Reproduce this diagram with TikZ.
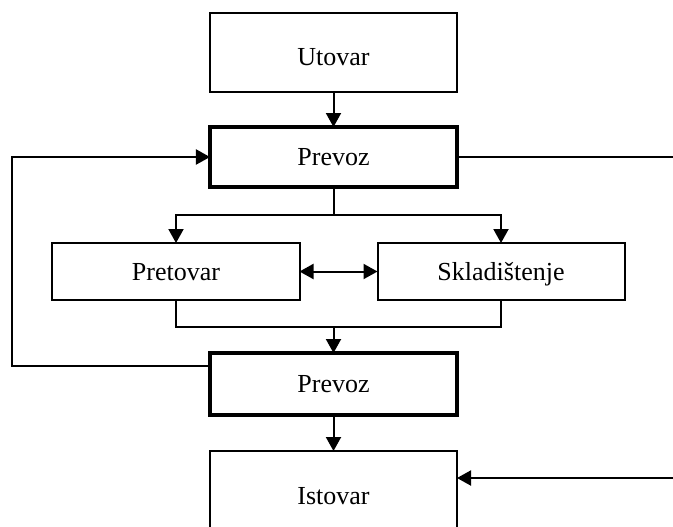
\documentclass[tikz,border=0pt]{standalone}
\usepackage{fontspec}
\setmainfont{Liberation Serif}
\usetikzlibrary{arrows.meta,calc,positioning}
\tikzset{
    %Define standard arrow tip
    >={Triangle[length=7pt,width=7.5pt]},
    %Define style for boxes
    stage/.style={
           rectangle,
           draw=black, line width=1pt,
           minimum width=123.5pt,
           minimum height=28.5pt,
           font=\fontsize{13}{15}\selectfont,
           text height=8.5pt, text depth=0pt,
           text centered,
           outer sep=0pt},
    transport/.style={
           stage,
           line width=2pt,
           minimum height=30pt},
    tall/.style={
           stage,
           text height=12.5pt,
           minimum height=39.5pt},
    % Define arrow style
    pil/.style={
           ->,
           line width=1pt},
    link/.style={
           line width=1pt}
}
\begin{document}
\begin{tikzpicture}[node distance=17.5pt]
\node[tall](utovar){Utovar};
\node[transport, below=of utovar](prevoz1){Prevoz};
\node[stage, below=28pt of prevoz1, xshift=-78.75pt](pretovar){Pretovar};
\node[stage, right=39pt of pretovar](sklad){Skladištenje};
\coordinate (mid) at (prevoz1 |- pretovar.south);
\node[transport, below=26.5pt of mid, minimum height=31pt](prevoz2){Prevoz};
\node[tall, below=18pt of prevoz2, minimum height=41pt, overlay](istovar){Istovar};
% page frame
\useasboundingbox ($(utovar.north west)+(-105pt,6.5pt)$) rectangle ($(istovar.north east)+(108pt,-37.5pt)$);
\coordinate (redge) at ($(istovar.north east)+(108pt,0)$);
\coordinate (ledge) at ($(utovar.north west)+(-99pt,0)$);
\coordinate (split) at ($(prevoz1.south)!0.5!(prevoz1.south |- pretovar.north)$);
\coordinate (merge) at ($(mid)!0.5!(prevoz2.north)$);
\coordinate (inlet) at ([yshift=7pt]istovar.east);
\coordinate (back) at ([yshift=9pt]prevoz2.west);
\draw[pil] (utovar) -- (prevoz1);
\draw[link] (prevoz1) -- (split);
\draw[pil] (split) -| (pretovar);
\draw[pil] (split) -| (sklad);
\draw[pil, <->] (pretovar) -- (sklad);
\draw[link] (pretovar) |- (merge) -| (sklad);
\draw[pil] (merge) -- (prevoz2);
\draw[pil] (prevoz2) -- (istovar);
\draw[pil] (back) -| (ledge |- prevoz1.west) -- (prevoz1.west);
\draw[link] (prevoz1.east) -- (redge |- prevoz1.east);
\draw[pil] (redge |- inlet) -- (inlet);
\end{tikzpicture}
\end{document}
